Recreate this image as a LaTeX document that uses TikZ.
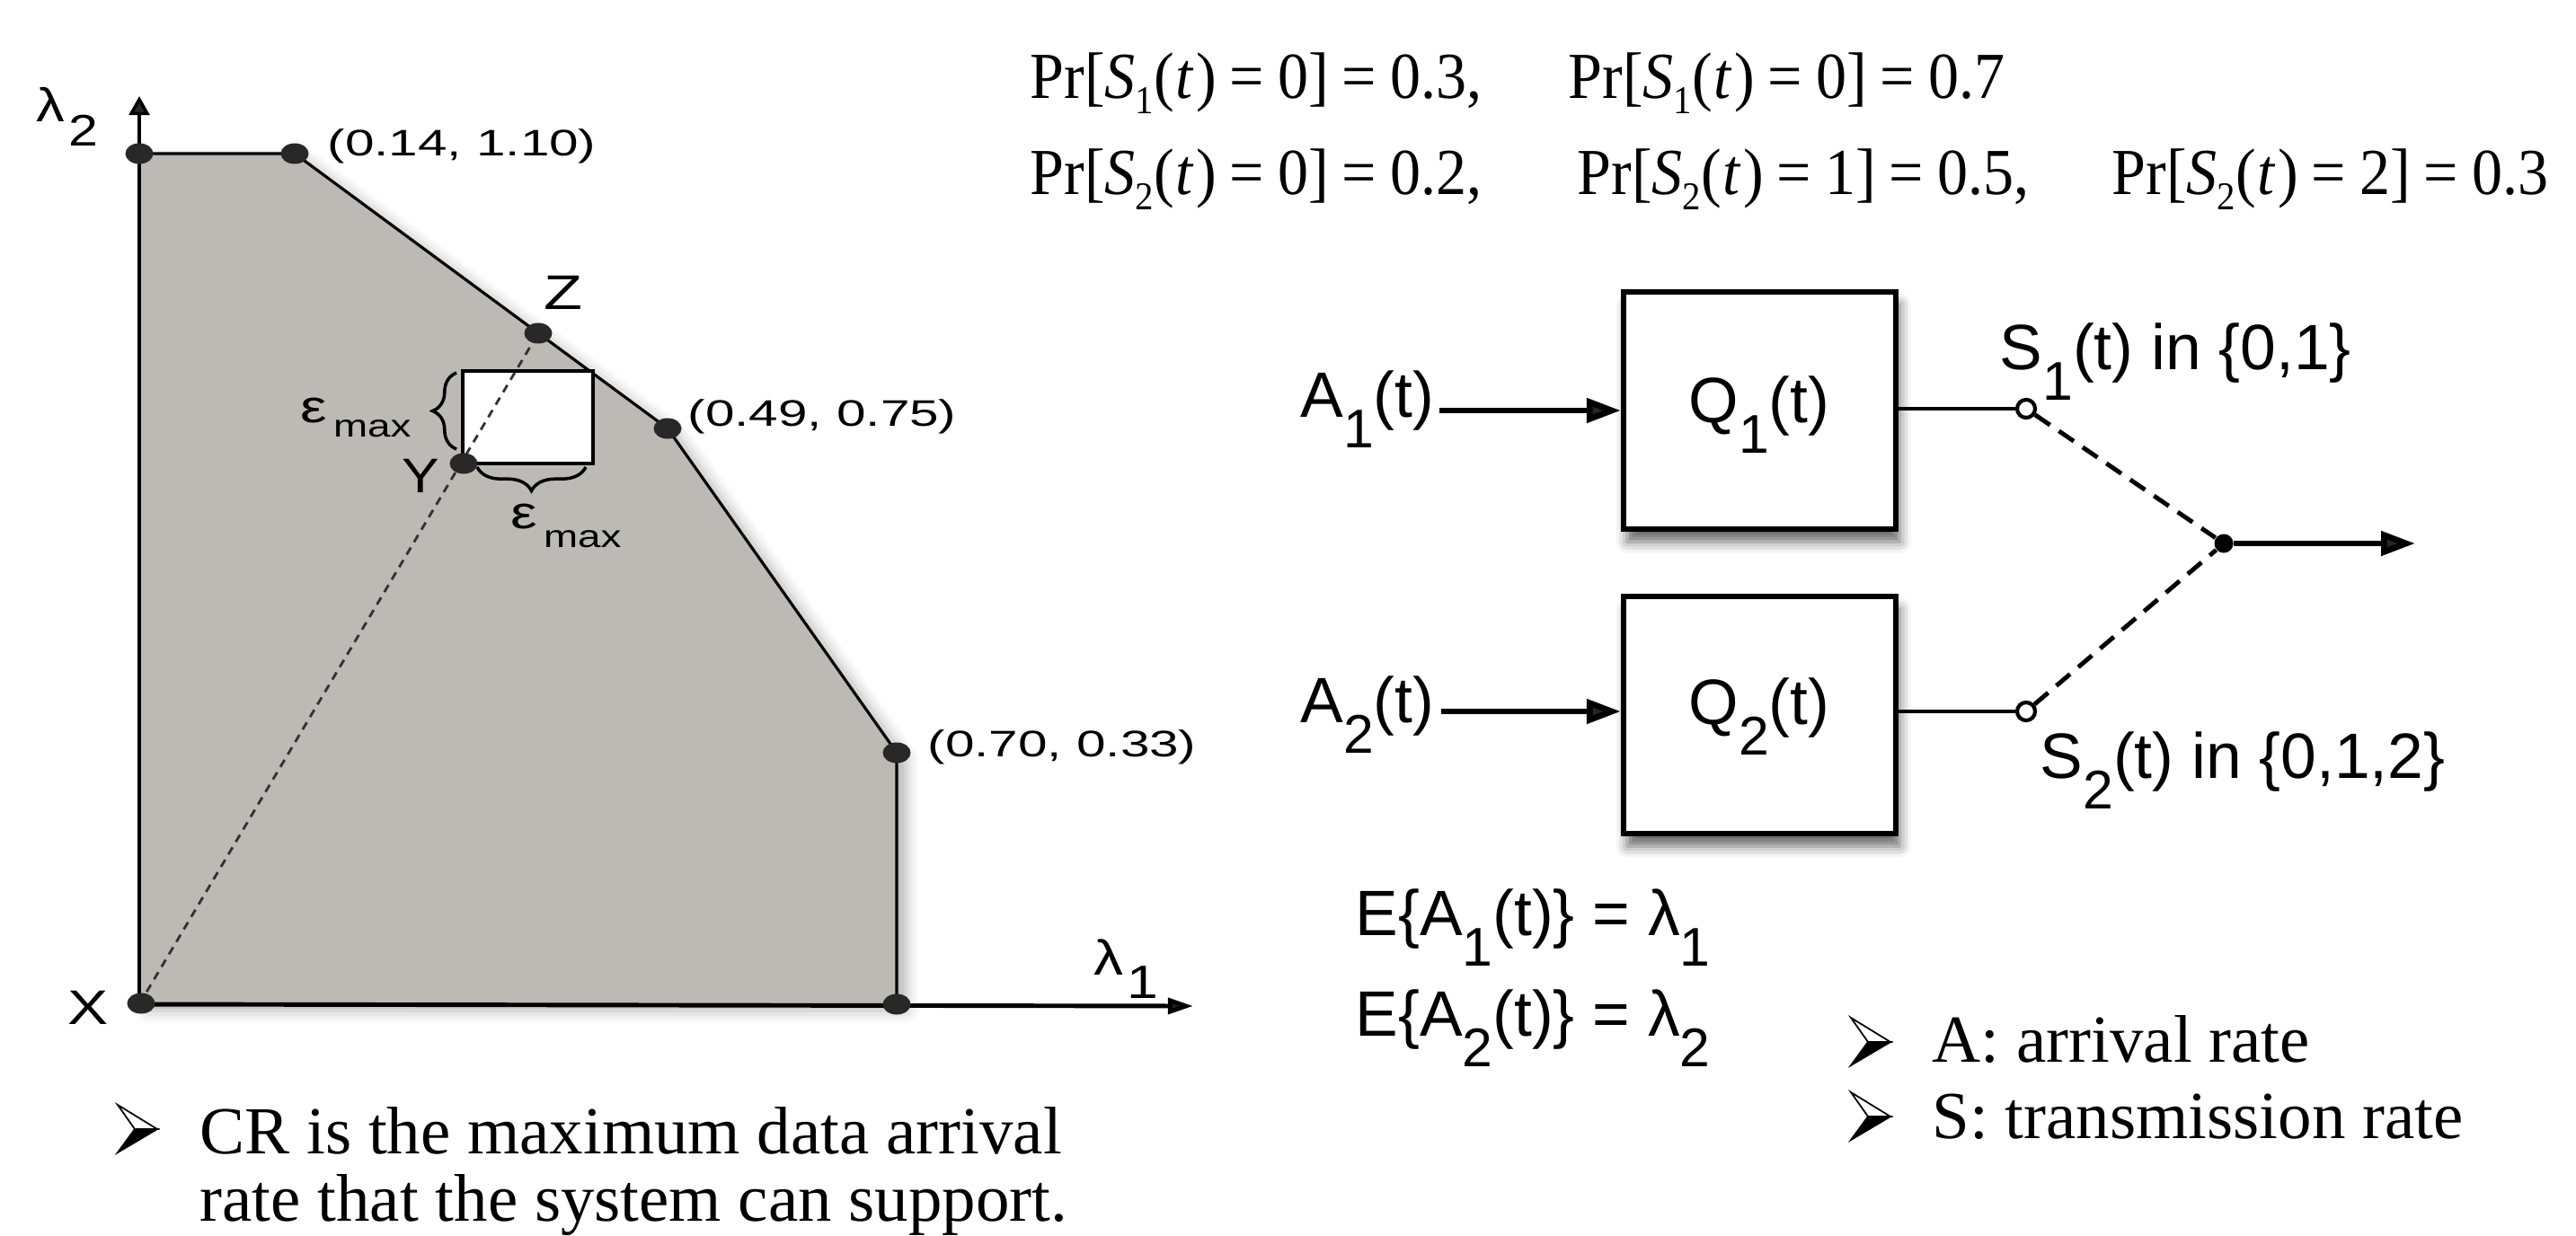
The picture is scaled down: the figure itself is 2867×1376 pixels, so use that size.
\documentclass[tikz,border=0pt]{standalone}
\usepackage{fontspec}
\usepackage{graphicx}
\setmainfont{Liberation Sans}
\newfontfamily\tnr{Liberation Serif}
\usetikzlibrary{arrows.meta,decorations.pathreplacing,shapes.geometric,shadows.blur}
\definecolor{crgray}{RGB}{189,185,180}
\definecolor{dotgray}{RGB}{40,40,40}
\newcommand{\fsz}[1]{\fontsize{#1}{#1}\selectfont}
\newcommand{\hsub}[1]{\raisebox{-0.48em}{\scalebox{0.85}{#1}}}
\newcommand{\tsub}[1]{\raisebox{-0.23em}{\scalebox{0.6}{#1}}}
\newcommand{\PR}[3]{Pr[\textit{S}\tsub{#1}(\kern0.03em\textit{t}\kern0.03em)\kern0.22em=\kern0.22em#2]\kern0.22em=\kern0.22em#3}
\newcommand{\bularrow}[2]{%
  \begin{scope}[shift={(#1,#2)}]
    \filldraw[fill=white, line width=0.5pt, line join=miter] (0,0) -- (44,27) -- (19,27) -- cycle;
    \filldraw[fill=black, line width=0.5pt, line join=miter] (0,53) -- (44,27) -- (19,27) -- cycle;
  \end{scope}}
\begin{document}
\begin{tikzpicture}[x=0.01cm,y=-0.01cm,
  chartedge/.style={line width=0.9pt, line join=round},
  yaxis/.style={line width=1pt, -{Triangle[length=6pt,width=6.5pt]}},
  xaxis/.style={line width=1.4pt, -{Triangle[length=8pt,width=5pt]}},
  cdot/.style={ellipse, fill=dotgray, minimum width=0.31cm, minimum height=0.23cm, inner sep=0pt},
  clabel/.style={inner sep=0pt, anchor=base west, font=\fsz{11.7pt}},
  cletter/.style={inner sep=0pt, font=\fsz{15.4pt}},
  bracestyle/.style={line width=1pt, decorate, decoration={brace, amplitude=7.5pt}},
  xzdash/.style={line width=0.8pt, draw={rgb,255:red,50;green,50;blue,50}, dash pattern=on 2.6pt off 2pt},
  qbox/.style={draw, line width=1.7pt, fill=white, minimum width=3.03cm, minimum height=2.64cm, inner sep=0pt,
    blur shadow={shadow xshift=1.2pt, shadow yshift=-4pt, shadow blur radius=3.5pt, shadow opacity=60}},
  rlabel/.style={inner sep=0pt, font=\fsz{20.3pt}},
  bigarrow/.style={line width=1.9pt, -{Triangle[length=10.8pt,width=7.5pt]}},
  thinl/.style={line width=1.3pt},
  dashl/.style={line width=1.4pt, dash pattern=on 5.7pt off 3.4pt},
  port/.style={circle, draw, fill=white, line width=1.2pt, minimum size=0.2cm, inner sep=0pt},
  jdot/.style={circle, fill=black, minimum size=0.21cm, inner sep=0pt},
  btext/.style={anchor=base west, inner sep=0pt, font=\tnr\fsz{21.3pt}},
  prtext/.style={anchor=base west, inner sep=0pt, font=\tnr\fsz{20.8pt}}
]
\path[use as bounding box] (0,0) rectangle (2867,1376);

% ---------------- capacity region chart ----------------
\coordinate (O) at (155,1118);
\coordinate (TL) at (155,171);
\coordinate (P1) at (328,171);
\coordinate (Zc) at (599,371);
\coordinate (P2) at (743,477);
\coordinate (P3) at (998,838);
\coordinate (BR) at (998,1118);
\coordinate (Yc) at (516,516);
\coordinate (ytip) at (155,107);
\coordinate (xtip) at (1328,1120);
\coordinate (Bx1) at (515,413);
\coordinate (Bx2) at (660,516);

\fill[crgray, blur shadow={shadow xshift=3pt, shadow yshift=-2pt, shadow blur radius=4pt, shadow opacity=30}]
  (O) -- (TL) -- (P1) -- (P2) -- (P3) -- (BR) -- cycle;
\draw[chartedge] (TL) -- (P1) -- (P2) -- (P3) -- (BR);
\draw[yaxis] (O) -- (ytip);
\draw[xaxis] (O) -- (xtip);

\draw[line width=1pt, fill=white] (Bx1) rectangle (Bx2);
\draw[xzdash] (O) -- (Zc);

\draw[bracestyle] (508,500) -- (508,415);
\draw[bracestyle] (652,520) -- (531,520);

\node[cdot] (dTL) at (TL) {};
\node[cdot] (dP1) at (P1) {};
\node[cdot] (dZ) at (Zc) {};
\node[cdot] (dP2) at (P2) {};
\node[cdot] (dP3) at (P3) {};
\node[cdot] (dBR) at (BR) {};
\node[cdot] (dX) at (157,1117) {};
\node[cdot] (dY) at (Yc) {};

\node[clabel] (l014) at (364,173) {\scalebox{1.42}[1]{(0.14, 1.10)}};
\node[clabel] (l049) at (765,474) {\scalebox{1.42}[1]{(0.49, 0.75)}};
\node[clabel] (l070) at (1032,842) {\scalebox{1.42}[1]{(0.70, 0.33)}};
\node[cletter, anchor=base west] (lZ) at (605,344) {\scalebox{1.3}[1]{Z}};
\node[cletter, anchor=base east] (lY) at (490,548) {\scalebox{1.15}[1]{Y}};
\node[cletter, anchor=base west] (lX) at (75,1140) {\scalebox{1.25}[1]{X}};
\node[inner sep=0pt, anchor=base west] (lam2) at (40,136)
  {\scalebox{1.2}[1]{\fsz{15pt}λ\kern1pt\raisebox{-7.4pt}{\fsz{14pt}2}}};
\node[inner sep=0pt, anchor=base west] (lam1) at (1217,1085)
  {\scalebox{1.2}[1]{\fsz{15.6pt}λ\kern1pt\raisebox{-7.4pt}{\fsz{14.8pt}1}}};
\node[inner sep=0pt, anchor=base west] (epsL) at (334,470)
  {\scalebox{1.3}[1]{\fsz{14.5pt}ε\kern1.5pt\raisebox{-4.8pt}{\fsz{10pt}max}}};
\node[inner sep=0pt, anchor=base west] (epsB) at (568,588)
  {\scalebox{1.3}[1]{\fsz{14.5pt}ε\kern1.5pt\raisebox{-6pt}{\fsz{10pt}max}}};

% ---------------- bullets ----------------
\bularrow{131}{1230}
\node[btext] (b1) at (222,1284) {CR is the maximum data arrival};
\node[btext] (b2) at (222,1359) {rate that the system can support.};
\bularrow{2060}{1133}
\node[btext] (b3) at (2150,1182) {A: arrival rate};
\bularrow{2060}{1216}
\node[btext] (b4) at (2150,1267) {S: transmission rate};

% ---------------- probability equations ----------------
\node[prtext] (pr1a) at (1146,110) {\scalebox{0.93}[1]{\PR{1}{0}{0.3,}}};
\node[prtext] (pr1b) at (1745,110) {\scalebox{0.93}[1]{\PR{1}{0}{0.7}}};
\node[prtext] (pr2a) at (1146,217) {\scalebox{0.93}[1]{\PR{2}{0}{0.2,}}};
\node[prtext] (pr2b) at (1755,217) {\scalebox{0.93}[1]{\PR{2}{1}{0.5,}}};
\node[prtext] (pr2c) at (2350,217) {\scalebox{0.93}[1]{\PR{2}{2}{0.3}}};

% ---------------- queue diagram ----------------
\node[qbox] (Q1) at (1958.5,457) {};
\node[qbox] (Q2) at (1958.5,796) {};
\node[rlabel, anchor=base] (Q1t) at (1958,470) {Q\hsub{1}(t)};
\node[rlabel, anchor=base] (Q2t) at (1958,806) {Q\hsub{2}(t)};
\node[rlabel, anchor=base east] (A1) at (1597,464) {A\hsub{1}(t)};
\node[rlabel, anchor=base east] (A2) at (1597,804) {A\hsub{2}(t)};
\coordinate (a1s) at (1602,457);
\coordinate (a2s) at (1604,792);
\node[port] (c1) at (2255,455) {};
\node[port] (c2) at (2255,792) {};
\node[jdot] (J) at (2475,605) {};
\coordinate (out) at (2688,605);

\draw[bigarrow] (a1s) -- (Q1.west);
\draw[bigarrow] (a2s) -- (Q2.west |- a2s);
\draw[thinl] (Q1.east |- c1) -- (c1);
\draw[thinl] (Q2.east |- c2) -- (c2);
\draw[dashl] (c1) -- (J);
\draw[dashl] (c2) -- (J);
\draw[bigarrow] (J) -- (out);

\node[rlabel, anchor=base west] (S1l) at (2225,411) {S\hsub{1}(t) in \{0,1\}};
\node[rlabel, anchor=base west] (S2l) at (2270,866) {S\hsub{2}(t) in \{0,1,2\}};
\node[rlabel, anchor=base west] (E1) at (1508,1041) {E\{A\hsub{1}(t)\} = λ\hsub{1}};
\node[rlabel, anchor=base west] (E2) at (1508,1153) {E\{A\hsub{2}(t)\} = λ\hsub{2}};
\end{tikzpicture}
\end{document}
